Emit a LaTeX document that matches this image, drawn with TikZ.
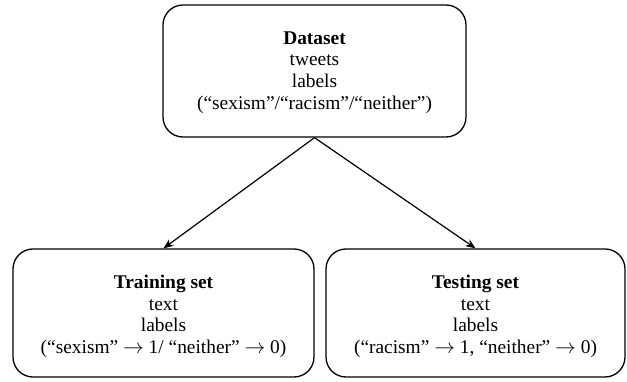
\documentclass[tikz,border=0pt]{standalone}
\usepackage{fontspec}
\setmainfont{Liberation Serif}
\usetikzlibrary{arrows.meta}
\begin{document}
\begin{tikzpicture}[x=1pt,y=1pt,
  box/.style={draw, line width=1.3pt, rounded corners=20pt, inner sep=0pt},
  txt/.style={align=center, inner sep=0pt, font=\fontsize{19.4}{21.6}\selectfont},
  link/.style={line width=1.2pt, -{Stealth[length=10pt,width=8pt]}}]
\useasboundingbox (0,0) rectangle (627,381);
% frames
\node[box, minimum width=303pt, minimum height=132pt] (data) at (314.5,310) {};
\node[box, minimum width=301pt, minimum height=128pt] (train) at (163.5,68) {};
\node[box, minimum width=299pt, minimum height=128pt] (test) at (475.5,68) {};
% contents
\node[txt] (datatxt) at ([yshift=-1.5pt]data.center)
  {\textbf{Dataset}\\tweets\\labels\\(“sexism”/“racism”/“neither”)};
\node[txt] (traintxt) at ([yshift=-3.5pt]train.center)
  {\textbf{Training set}\\text\\labels\\(“sexism” $\rightarrow$ 1/ “neither” $\rightarrow$ 0)};
\node[txt] (testtxt) at ([yshift=-3.5pt]test.center)
  {\textbf{Testing set}\\text\\labels\\(“racism” $\rightarrow$ 1, “neither” $\rightarrow$ 0)};
% connectors
\draw[link] (data.south) -- (train.north);
\draw[link] (data.south) -- (test.north);
\end{tikzpicture}
\end{document}
